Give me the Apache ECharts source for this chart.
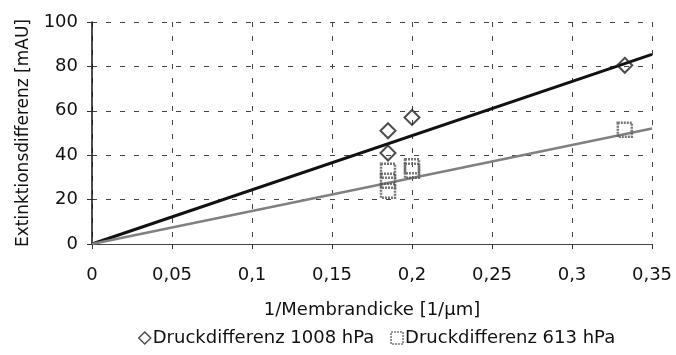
<!DOCTYPE html>
<html>
<head>
<meta charset="utf-8">
<script src="https://cdn.jsdelivr.net/npm/echarts@6/dist/echarts.min.js"></script>
<style>
  html, body { margin: 0; padding: 0; background: #fff; }
  #chart { width: 676px; height: 355px; }
</style>
</head>
<body>
<div id="chart"></div>
<script>
  // Messpunkte
  const xTicks = [0, 0.05, 0.1, 0.15, 0.2, 0.25, 0.3, 0.35];
  const yTicks = [0, 20, 40, 60, 80, 100];
  const points1008 = [[0.185, 51], [0.185, 41], [0.2, 57], [0.333, 80.5]];
  const points613 = [[0.185, 33], [0.185, 28.5], [0.185, 24], [0.2, 35], [0.2, 33], [0.333, 51.5]];
  // Trendlinien (durch den Ursprung)
  const trend1008 = [[0, 0], [0.35, 85.4]];
  const trend613 = [[0, 0], [0.35, 52]];

  const name1008 = "Druckdifferenz 1008 hPa";
  const name613 = "Druckdifferenz 613 hPa";

  const chart = echarts.init(document.getElementById("chart"));

  const fmt = (v) => String(Math.round(v * 100) / 100).replace(".", ",");

  chart.setOption({
    animation: false,
    textStyle: { fontFamily: "DejaVu Sans" },
    grid: { left: 92, right: 24, top: 22, bottom: 111 },
    xAxis: {
      type: "value",
      min: xTicks[0],
      max: xTicks[xTicks.length - 1],
      interval: 0.05,
      name: "1/Membrandicke [1/µm]",
      nameLocation: "middle",
      nameGap: 57,
      nameTextStyle: { color: "#111", fontSize: 18 },
      axisLine: { lineStyle: { color: "#444", width: 1 } },
      axisTick: { show: true, length: 5, lineStyle: { color: "#333" } },
      axisLabel: { color: "#111", fontSize: 18, margin: 22, formatter: fmt },
      splitLine: { show: true, lineStyle: { color: "#444", type: [5, 9], width: 1 } },
    },
    yAxis: {
      type: "value",
      min: yTicks[0],
      max: yTicks[yTicks.length - 1],
      interval: 20,
      name: "Extinktionsdifferenz [mAU]",
      nameLocation: "middle",
      nameGap: 60,
      nameTextStyle: { color: "#111", fontSize: 17 },
      axisLine: { show: true, lineStyle: { color: "#111", width: 1.5 } },
      axisTick: { show: true, length: 5, lineStyle: { color: "#333" } },
      axisLabel: { color: "#111", fontSize: 18, margin: 14 },
      splitLine: { show: true, lineStyle: { color: "#444", type: [5, 9], width: 1 } },
    },
    legend: {
      bottom: 3,
      left: 133,
      itemGap: 16,
      itemWidth: 12,
      itemHeight: 12,
      textStyle: { color: "#111", fontSize: 18, padding: [0, 0, 0, -3] },
      data: [
        { name: name1008, icon: "diamond", itemStyle: { color: "#fff", borderColor: "#222", borderWidth: 1.5 } },
        { name: name613, icon: "rect", itemStyle: { color: "#fff", borderColor: "#555", borderWidth: 1.5, borderType: [2, 1] } },
      ],
    },
    series: [
      {
        name: "Trend 1008",
        type: "line",
        data: trend1008,
        symbol: "none",
        silent: true,
        lineStyle: { color: "#111", width: 3 },
        z: 3,
      },
      {
        name: "Trend 613",
        type: "line",
        data: trend613,
        symbol: "none",
        silent: true,
        lineStyle: { color: "#808080", width: 2.5 },
        z: 3,
      },
      {
        name: name1008,
        type: "scatter",
        data: points1008,
        symbol: "diamond",
        symbolSize: 15,
        itemStyle: { color: "rgba(255,255,255,0)", borderColor: "#222", borderWidth: 2 },
        z: 4,
      },
      {
        name: name613,
        type: "scatter",
        data: points613,
        symbol: "rect",
        symbolSize: 14,
        itemStyle: { color: "rgba(255,255,255,0)", borderColor: "#555", borderWidth: 2.5, borderType: [2, 1] },
        z: 4,
      },
    ],
  });
</script>
</body>
</html>
